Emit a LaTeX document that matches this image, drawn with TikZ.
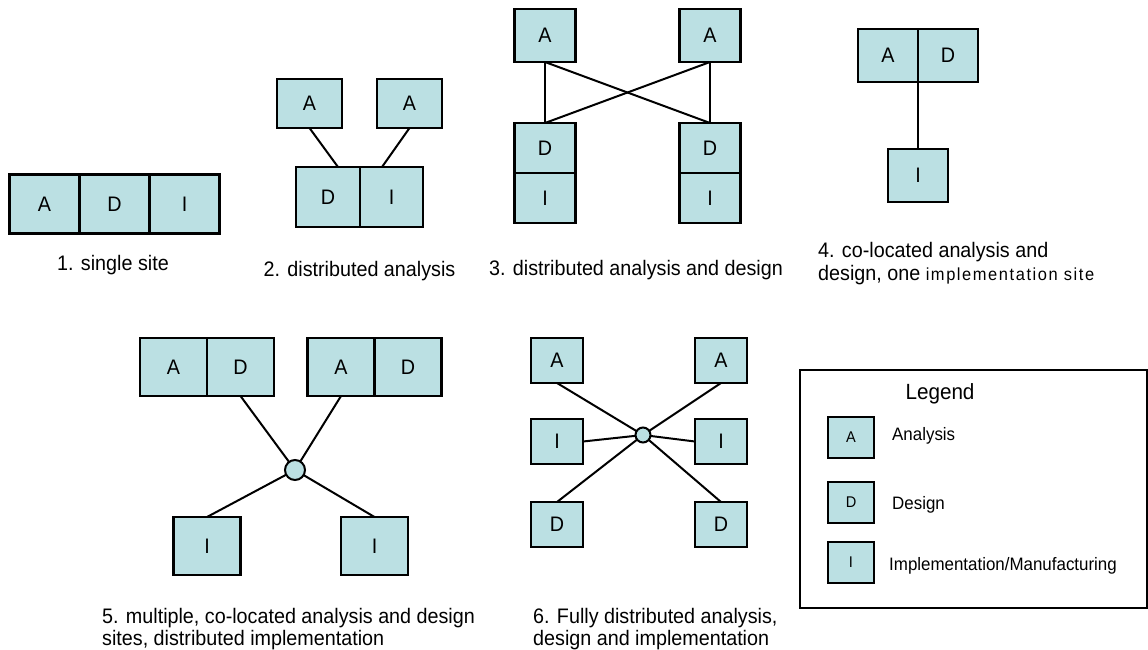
\documentclass[tikz,border=0pt]{standalone}
\usepackage{fontspec}
\setmainfont[FakeStretch=0.94]{Liberation Sans}
\usetikzlibrary{calc}
\definecolor{boxfill}{RGB}{187,224,227}
\begin{document}
\begin{tikzpicture}[x=1pt,y=-1pt,
  box/.style={draw=black, fill=boxfill, line width=2.4pt, inner sep=0pt, outer sep=0pt, font=\fontsize{21}{24}\selectfont},
  lbox/.style={box, minimum width=46pt, minimum height=41pt, font=\fontsize{15.5}{18}\selectfont},
  conn/.style={draw=black, line width=2pt},
  hub/.style={circle, draw=black, fill=boxfill, line width=2pt, inner sep=0pt, outer sep=0pt},
  captext/.style={inner sep=0pt, anchor=base west, font=\fontsize{21}{24}\selectfont},
  capc/.style={inner sep=0pt, anchor=base, font=\fontsize{21}{24}\selectfont},
  lab/.style={inner sep=0pt, anchor=base west, font=\fontsize{18}{20}\selectfont}]
\useasboundingbox (0,0) rectangle (1148,649);

% ---------- 1. single site
\begin{scope}[every node/.append style={minimum width=70pt, minimum height=59pt}]
\node[box] (a1) at (44.5,204) {A};
\node[box] (d1) at (114.5,204) {D};
\node[box] (i1) at (184.5,204) {I};
\end{scope}
\node[capc] (c1) at (113,270) {1. single site};

% ---------- 2. distributed analysis
\node[box, minimum width=65pt, minimum height=49pt] (a2l) at (309.5,103.5) {A};
\node[box, minimum width=65pt, minimum height=49pt] (a2r) at (409.5,103.5) {A};
\node[box, minimum width=63.5pt, minimum height=60pt] (d2) at (328,197) {D};
\node[box, minimum width=63.5pt, minimum height=60pt] (i2) at (391.5,197) {I};
\draw[conn] (a2l.south) -- ($(d2.north)+(10,0)$);
\draw[conn] (a2r.south) -- ($(i2.north)+(-9.5,0)$);
\node[capc] (c2) at (359.5,276) {2. distributed analysis};

% ---------- 3. distributed analysis and design
\begin{scope}[every node/.append style={minimum width=61pt}]
\node[box, minimum height=53pt] (a3l) at (545,35.5) {A};
\node[box, minimum height=53pt] (a3r) at (710,35.5) {A};
\node[box, minimum height=50pt] (d3l) at (545,148) {D};
\node[box, minimum height=50pt] (i3l) at (545,198) {I};
\node[box, minimum height=50pt] (d3r) at (710,148) {D};
\node[box, minimum height=50pt] (i3r) at (710,198) {I};
\end{scope}
\draw[conn] (a3l.south) -- (d3l.north);
\draw[conn] (a3r.south) -- (d3r.north);
\draw[conn] (a3l.south) -- (d3r.north);
\draw[conn] (a3r.south) -- (d3l.north);
\node[capc] (c3) at (636,275) {3. distributed analysis and design};

% ---------- 4. co-located analysis and design
\begin{scope}[every node/.append style={minimum width=60pt, minimum height=53pt}]
\node[box] (a4) at (888,55.5) {A};
\node[box] (d4) at (948,55.5) {D};
\node[box] (i4) at (918,175.5) {I};
\end{scope}
\draw[conn] (a4.south east) -- (i4.north);
\node[captext] (c4a) at (818,257) {4. co-located analysis and};
\node[captext] (c4b) at (818,280) {design, one {\fontsize{17.5}{20}\selectfont\addfontfeature{LetterSpace=9}implementation site}};

% ---------- 5. multiple co-located
\begin{scope}[every node/.append style={minimum width=67pt, minimum height=58pt}]
\node[box] (a5l) at (173.5,367) {A};
\node[box] (d5l) at (240.5,367) {D};
\node[box] (a5r) at (341,367) {A};
\node[box] (d5r) at (408,367) {D};
\node[box] (i5l) at (207,546) {I};
\node[box] (i5r) at (374.5,546) {I};
\end{scope}
\node[hub, minimum size=20pt] (h5) at (295,470) {};
\draw[conn] (d5l.south) -- (h5);
\draw[conn] (a5r.south) -- (h5);
\draw[conn] (h5) -- (i5l.north);
\draw[conn] (h5) -- (i5r.north);
\node[captext] (c5a) at (102,623) {5. multiple, co-located analysis and design};
\node[captext] (c5b) at (102,645) {sites, distributed implementation};

% ---------- 6. fully distributed
\begin{scope}[every node/.append style={minimum width=52pt, minimum height=45pt}]
\node[box] (a6l) at (557,360.5) {A};
\node[box] (a6r) at (721,360.5) {A};
\node[box] (i6l) at (557,441.5) {I};
\node[box] (i6r) at (721,441.5) {I};
\node[box] (d6l) at (557,524.5) {D};
\node[box] (d6r) at (721,524.5) {D};
\end{scope}
\node[hub, minimum size=15pt] (h6) at (643,435) {};
\draw[conn] (a6l.south) -- (h6);
\draw[conn] (a6r.south) -- (h6);
\draw[conn] (i6l.east) -- (h6);
\draw[conn] (i6r.west) -- (h6);
\draw[conn] (d6l.north) -- (h6);
\draw[conn] (d6r.north) -- (h6);
\node[captext] (c6a) at (533,623) {6. Fully distributed analysis,};
\node[captext] (c6b) at (533,645) {design and implementation};

% ---------- Legend
\node[draw=black, line width=2pt, inner sep=0pt, minimum width=347pt, minimum height=238pt, anchor=north west] (leg) at (799,369) {};
\node[inner sep=0pt, anchor=base, font=\fontsize{22}{24}\selectfont] (legt) at (940,399) {Legend};
\node[lbox] (la) at (851,437.5) {A};
\node[lbox] (ld) at (851,502.5) {D};
\node[lbox] (li) at (851,562.5) {I};
\node[lab] (lat) at (892,440) {Analysis};
\node[lab] (ldt) at (892,509) {Design};
\node[lab] (lit) at (889,570) {Implementation/Manufacturing};
\end{tikzpicture}
\end{document}
